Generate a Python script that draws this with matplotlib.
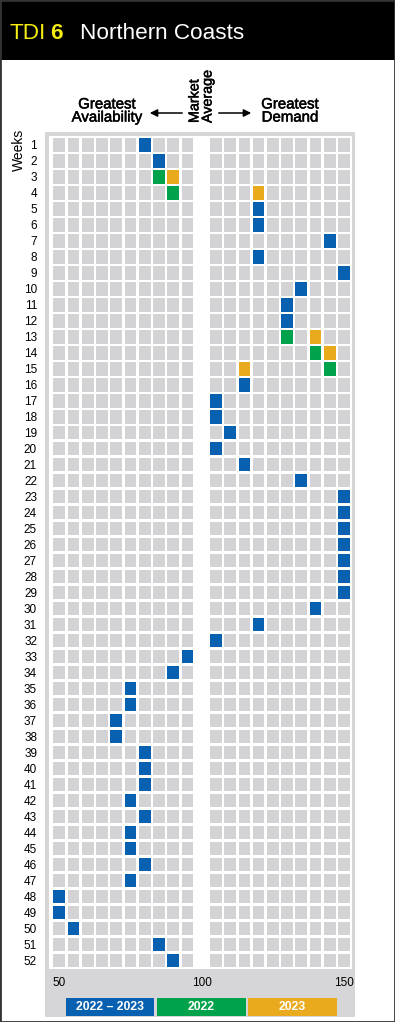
import numpy as np
import matplotlib
matplotlib.use('Agg')
from matplotlib import pyplot as plt
from matplotlib.patches import Rectangle, FancyArrowPatch
from matplotlib import patheffects as pe

plt.rcParams['font.family'] = ['Liberation Sans', 'DejaVu Sans']

# ---------------------------------------------------------------
# data
# ---------------------------------------------------------------
weeks = list(range(1, 53))
columns = [50, 55, 60, 65, 70, 75, 80, 85, 90, 95,
           105, 110, 115, 120, 125, 130, 135, 140, 145, 150]
x_ticks = [50, 100, 150]

# 2022 - 2023 (blue), None = no mark that week
blue_values = [80, 85, None, None, 120, 120, 145, 120, 150, 135,
               130, 130, None, None, None, 115, 105, 105, 110, 105,
               115, 135, 150, 150, 150, 150, 150, 150, 150, 140,
               120, 105, 95, 90, 75, 75, 70, 70, 80, 80,
               80, 75, 80, 75, 75, 80, 75, 50, 50, 55,
               85, 90]

green_weeks = [3, 4, 13, 14, 15]
green_values = [85, 90, 130, 140, 145]

orange_weeks = [3, 4, 13, 14, 15]
orange_values = [90, 120, 140, 145, 115]

legend_labels = ['2022 \u2013 2023', '2022', '2023']

# colours
BLUE = '#0860b0'
GREEN = '#00a24c'
ORANGE = '#e9ab1d'
CELL = '#d3d3d5'
PANEL = '#d6d6d8'
YELLOW = '#f4ec12'

W, H = 395, 1022


def fx(x):
    return x / W


def fy(y):
    return 1 - y / H


fig = plt.figure(figsize=(W / 100, H / 100), dpi=100)
fig.patch.set_facecolor('white')

# header band
fig.add_artist(Rectangle((0, fy(60)), 1, 60 / H, transform=fig.transFigure,
                         facecolor='black', edgecolor='none', zorder=0))
fig.text(fx(10), fy(39), 'TDI', color=YELLOW, fontsize=16.2, va='baseline')
fig.text(fx(50), fy(39), '6', color=YELLOW, fontsize=16.2, fontweight='bold',
         va='baseline')
fig.text(fx(80), fy(39), 'Northern Coasts', color='white', fontsize=16.2,
         va='baseline')

# gray panel
fig.add_artist(Rectangle((fx(45), fy(1017)), fx(355) - fx(45), (1017 - 132) / H,
                         transform=fig.transFigure, facecolor=PANEL,
                         edgecolor='none', zorder=0))

# grid axes
ax = fig.add_axes([fx(49), fy(969), fx(352) - fx(49), (969 - 136) / H])
ax.set_facecolor('white')
ax.set_xlim(46.4, 152.8)
ax.set_ylim(52.52, 0.44)
for s in ax.spines.values():
    s.set_visible(False)

cw, ch = 4.1, 0.83
gx, gy = np.meshgrid(columns, weeks)
ax.bar(gx.ravel(), ch, width=cw, bottom=gy.ravel() - ch / 2,
       color=CELL, linewidth=0)

bw = [w for w, v in zip(weeks, blue_values) if v is not None]
bv = [v for v in blue_values if v is not None]
ax.bar(bv, ch, width=cw, bottom=np.array(bw) - ch / 2, color=BLUE, linewidth=0)
ax.bar(green_values, ch, width=cw, bottom=np.array(green_weeks) - ch / 2,
       color=GREEN, linewidth=0)
ax.bar(orange_values, ch, width=cw, bottom=np.array(orange_weeks) - ch / 2,
       color=ORANGE, linewidth=0)

ax.set_yticks(weeks)
ax.set_yticklabels([str(w) for w in weeks])
ax.set_xticks(x_ticks)
ax.set_xticklabels([str(t) for t in x_ticks])
ax.tick_params(axis='y', length=0, pad=8.6, labelsize=8.5)
ax.tick_params(axis='x', length=0, pad=5.8, labelsize=8.5)

fig.text(fx(19), fy(150), 'Weeks', rotation=90, ha='center', va='center',
         fontsize=10)

# headings (semi-bold look)
semi = [pe.withStroke(linewidth=0.35, foreground='black')]
fig.text(fx(107), fy(111), 'Greatest\nAvailability', ha='center', va='center',
         fontsize=10.8, linespacing=0.92, path_effects=semi)
fig.text(fx(290), fy(111), 'Greatest\nDemand', ha='center', va='center',
         fontsize=10.8, linespacing=0.92, path_effects=semi)
fig.text(fx(201), fy(123), 'Market\nAverage', rotation=90, ha='center',
         va='bottom', fontsize=10.3, linespacing=0.92,
         multialignment='left', path_effects=semi)
for x0, x1 in [(185, 147), (216, 254)]:
    fig.add_artist(FancyArrowPatch((fx(x0), fy(113)), (fx(x1), fy(113)),
                                   transform=fig.transFigure, arrowstyle='-|>',
                                   mutation_scale=11, lw=1.1, color='black'))

# legend
for (x0, x1), c, lab in zip([(66, 154), (157, 246), (248, 337)],
                            [BLUE, GREEN, ORANGE], legend_labels):
    fig.add_artist(Rectangle((fx(x0), fy(1016)), fx(x1) - fx(x0), 18 / H,
                             transform=fig.transFigure, facecolor=c,
                             edgecolor='none'))
    fig.text(fx((x0 + x1) / 2), fy(1007), lab, color='white', ha='center',
             va='center', fontsize=8.8, fontweight='bold')

# outer frame
fig.add_artist(Rectangle((0, 0), 1, 1, transform=fig.transFigure,
                         facecolor='none', edgecolor='#333333', lw=2))

fig.savefig('out.png', dpi=100)
